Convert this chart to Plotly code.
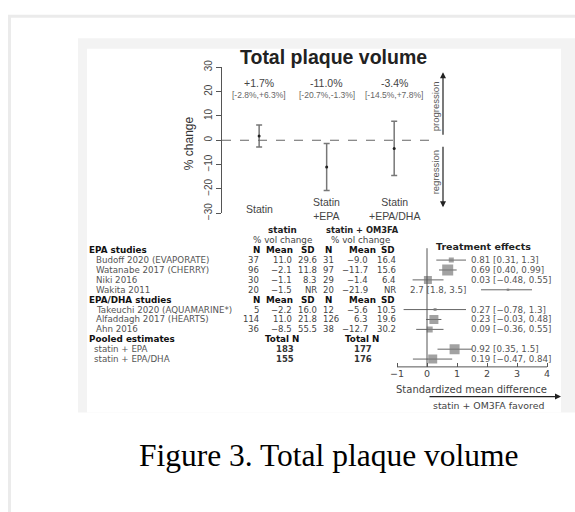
import plotly.graph_objects as go

W, H = 575, 512


def px(x):
    return x / W


def py(y):
    return 1 - y / H


# ---------------- data ----------------
groups = ["Statin", "Statin<br>+EPA", "Statin<br>+EPA/DHA"]
pct_change = [1.7, -11.0, -3.4]
pct_low = [-2.8, -20.7, -14.5]
pct_high = [6.3, -1.3, 7.8]
y_ticks = [-30, -20, -10, 0, 10, 20, 30]

epa_studies = ["Budoff 2020 (EVAPORATE)", "Watanabe 2017 (CHERRY)", "Niki 2016", "Wakita 2011"]
epadha_studies = ["Takeuchi 2020 (AQUAMARINE*)", "Alfaddagh 2017 (HEARTS)", "Ahn 2016"]
statin_n = [37, 96, 30, 20, 5, 114, 36]
statin_mean = [11.0, -2.1, -1.1, -1.5, -2.2, 11.0, -8.5]
statin_sd = [29.6, 11.8, 8.3, None, 16.0, 21.8, 55.5]
om3_n = [31, 97, 29, 20, 12, 126, 38]
om3_mean = [-9.0, -11.7, -1.4, -21.9, -5.6, 6.3, -12.7]
om3_sd = [16.4, 15.6, 6.4, None, 10.5, 19.6, 30.2]

pooled_names = ["statin + EPA", "statin + EPA/DHA"]
pooled_statin_n = [183, 155]
pooled_om3_n = [177, 176]

smd = [0.81, 0.69, 0.03, 2.7, 0.27, 0.23, 0.09, 0.92, 0.19]
smd_low = [0.31, 0.40, -0.48, 1.8, -0.78, -0.03, -0.36, 0.35, -0.47]
smd_high = [1.3, 0.99, 0.55, 3.5, 1.3, 0.48, 0.55, 1.5, 0.84]
box_weight = [5, 11, 8, 2.5, 3, 9, 6, 10, 9]
smd_ticks = [-1, 0, 1, 2, 3, 4]

# ---------------- layout helpers ----------------
SANS = "Liberation Sans, Arial, sans-serif"
WIDE = "DejaVu Sans, Liberation Sans, sans-serif"
SERIF = "Liberation Serif, Times New Roman, serif"
study_slots = [1, 2, 3, 4, 6, 7, 8]
pooled_slots = [10, 11]
forest_slots = study_slots + pooled_slots


def fmt(v, nd=1):
    if v is None:
        return "NR"
    s = f"{v:.{nd}f}"
    return s.replace("-", "\u2212")


def fmt_smd(v):
    s = f"{v:.1f}" if abs(v) >= 1 else f"{v:.2f}"
    return s.replace("-", "\u2212")


fig = go.Figure()

# top panel: mean % change with CI
fig.add_trace(go.Scatter(
    x=[1, 2, 3], y=pct_change, mode="markers",
    marker=dict(size=3, color="#222"),
    error_y=dict(type="data", symmetric=False,
                 array=[h - m for h, m in zip(pct_high, pct_change)],
                 arrayminus=[m - l for m, l in zip(pct_change, pct_low)],
                 color="#777", thickness=1.5, width=3),
    xaxis="x", yaxis="y", hoverinfo="skip"))

# forest plot
fig.add_trace(go.Scatter(
    x=smd, y=forest_slots, mode="markers",
    marker=dict(symbol="square", size=box_weight, color="#7a7a7a", line=dict(width=0)),
    error_x=dict(type="data", symmetric=False,
                 array=[h - m for h, m in zip(smd_high, smd)],
                 arrayminus=[m - l for m, l in zip(smd, smd_low)],
                 color="#666", thickness=1, width=0),
    xaxis="x3", yaxis="y3", hoverinfo="skip"))

shapes = [
    # outer page frame
    dict(type="rect", xref="paper", yref="paper", x0=px(9.5), x1=1.2, y0=py(9.5), y1=-0.2,
         line=dict(color="#ebebeb", width=3), fillcolor="rgba(0,0,0,0)", layer="below"),
    # figure image background
    dict(type="rect", xref="paper", yref="paper", x0=px(78), x1=1.0, y0=py(32), y1=py(417),
         line=dict(width=0), fillcolor="#f3f3f3", layer="below"),
    dict(type="rect", xref="paper", yref="paper", x0=px(87), x1=px(561), y0=py(43), y1=py(417),
         line=dict(width=0), fillcolor="#ffffff", layer="below"),
    # zero line top panel
    dict(type="line", xref="x", yref="y", x0=0.45, x1=3.56, y0=0, y1=0,
         line=dict(color="#666", width=1, dash="dash")),
    # forest zero line and axis
    dict(type="line", xref="x3", yref="y3", x0=0, x1=0, y0=-0.2, y1=11.8,
         line=dict(color="#555", width=1)),
    dict(type="line", xref="x3", yref="paper", x0=smd_ticks[0], x1=smd_ticks[-1], y0=py(370), y1=py(370),
         line=dict(color="#555", width=1)),
]

ann = []


def text(x, y, t, size, color="#333", xanchor="center", yanchor="middle", xref="paper", yref="paper",
         angle=0, family=SANS):
    ann.append(dict(x=x, y=y, xref=xref, yref=yref, text=t, showarrow=False, xanchor=xanchor,
                    yanchor=yanchor, textangle=angle, borderpad=0,
                    font=dict(size=size, color=color, family=family)))


# title & top panel text
text(px(333), py(51), "<b>Total plaque volume</b>", 19.5, "#222")
text(px(189), py(140), "% change", 12, "#333", angle=-90)
for i, (m, lo, hi) in enumerate(zip(pct_change, pct_low, pct_high)):
    text(i + 1, py(78.5), f"{m:+.1f}%", 10.5, "#444", xref="x")
    text(i + 1, py(90), f"[{lo:+.1f}%,{hi:+.1f}%]", 8.5, "#666", xref="x")
    text(i + 1, py(208), groups[i], 10.5, "#444", xref="x")
text(px(435), py(102), "progression", 9.5, "#555", angle=-90)
text(px(435), py(170), "regression", 9.5, "#555", angle=-90)
for y_head, ay in [(67, 64), (206, -62)]:
    ann.append(dict(x=px(443), y=py(y_head), xref="paper", yref="paper", text="", showarrow=True,
                    ax=0, ay=ay, arrowhead=2, arrowsize=1, arrowwidth=1.2, arrowcolor="#222"))

# table headers
HB = 8.8
RS = 8.7
NUM = 8.5
text(px(282), -2, "<b>statin</b>", HB, "#222", yref="y3", family=WIDE)
text(px(282), -1, "% vol change", HB, "#444", yref="y3", family=WIDE)
text(px(362), -2, "<b>statin + OM3FA</b>", 8.3, "#222", yref="y3", family=WIDE)
text(px(360), -1, "% vol change", HB, "#444", yref="y3", family=WIDE)
for slot, label in [(0, "EPA studies"), (5, "EPA/DHA studies"), (9, "Pooled estimates")]:
    text(px(88), slot, f"<b>{label}</b>", HB, "#111", xanchor="left", yref="y3", family=WIDE)
for slot in (0, 5):
    for xc, lab in [(256, "N"), (279, "Mean"), (308, "SD"), (328, "N"), (362, "Mean"), (388, "SD")]:
        text(px(xc), slot, f"<b>{lab}</b>", HB, "#111", yref="y3", family=WIDE)
text(px(282), 9, "<b>Total N</b>", HB, "#111", yref="y3", family=WIDE)
text(px(362), 9, "<b>Total N</b>", HB, "#111", yref="y3", family=WIDE)

# table rows
names = epa_studies + epadha_studies
for k, slot in enumerate(study_slots):
    text(px(95), slot, names[k], RS, "#555", xanchor="left", yref="y3", family=WIDE)
    text(px(260), slot, str(statin_n[k]), NUM, "#444", xanchor="right", yref="y3", family=WIDE)
    text(px(293), slot, fmt(statin_mean[k]), NUM, "#444", xanchor="right", yref="y3", family=WIDE)
    text(px(318), slot, fmt(statin_sd[k]), NUM, "#444", xanchor="right", yref="y3", family=WIDE)
    text(px(322), slot, str(om3_n[k]), NUM, "#444", xanchor="left", yref="y3", family=WIDE)
    text(px(369), slot, fmt(om3_mean[k]), NUM, "#444", xanchor="right", yref="y3", family=WIDE)
    text(px(397), slot, fmt(om3_sd[k]), NUM, "#444", xanchor="right", yref="y3", family=WIDE)
for k, slot in enumerate(pooled_slots):
    text(px(93), slot, pooled_names[k], RS, "#555", xanchor="left", yref="y3", family=WIDE)
    text(px(285), slot, f"<b>{pooled_statin_n[k]}</b>", NUM, "#333", yref="y3", family=WIDE)
    text(px(363), slot, f"<b>{pooled_om3_n[k]}</b>", NUM, "#333", yref="y3", family=WIDE)

# forest labels
text(px(435), -0.35, "<b>Treatment effects</b>", 9.5, "#222", xanchor="left", yref="y3", family=WIDE)
for k, slot in enumerate(forest_slots):
    lab = f"{fmt_smd(smd[k])} [{fmt_smd(smd_low[k])}, {fmt_smd(smd_high[k])}]"
    if smd_low[k] > 1.5:
        text(px(468), slot, lab, RS, "#555", xanchor="right", yref="y3", family=WIDE)
    else:
        text(px(470), slot, lab, RS, "#555", xanchor="left", yref="y3", family=WIDE)
text(px(471), py(393.5), "Standardized mean difference", 10, "#444", family=WIDE)
ann.append(dict(x=px(561), y=py(400.5), xref="paper", yref="paper", text="", showarrow=True,
                ax=-133, ay=0, arrowhead=2, arrowsize=1, arrowwidth=1.2, arrowcolor="#222"))
text(px(488), py(410), "statin + OM3FA favored", 9.4, "#444", family=WIDE)

# caption
text(px(328.5), py(461), "Figure 3. Total plaque volume", 31.5, "#000", family=SERIF)

fig.update_layout(
    width=W, height=H, autosize=False,
    margin=dict(l=0, r=0, t=0, b=0, pad=0),
    paper_bgcolor="white", plot_bgcolor="rgba(0,0,0,0)",
    showlegend=False, hovermode=False,
    shapes=shapes, annotations=ann,
    xaxis=dict(domain=[px(222), px(432)], range=[0.45, 3.56], visible=False, anchor="y"),
    yaxis=dict(domain=[py(212), py(62)], range=[-30, 30], anchor="x",
               showline=True, linecolor="#555", linewidth=1, ticks="outside", ticklen=5,
               tickcolor="#555", tickvals=y_ticks,
               ticktext=[str(v).replace("-", "\u2212") for v in y_ticks],
               tickangle=-90, showgrid=False, zeroline=False,
               tickfont=dict(size=10, color="#444", family=SANS)),
    xaxis3=dict(domain=[px(382), px(562)], range=[-1.5, 4.5], anchor="free", position=py(370),
                showline=False, ticks="inside", ticklen=4, tickcolor="#555",
                tickvals=smd_ticks, ticktext=[str(v).replace("-", "\u2212") for v in smd_ticks],
                showgrid=False, zeroline=False, tickfont=dict(size=9.5, color="#444", family=WIDE)),
    yaxis3=dict(domain=[py(392.5), py(219.5)], range=[14, -3], visible=False, anchor="x3"),
)

fig.write_html("out.html", config={"displayModeBar": False, "staticPlot": True},
               post_script="document.body.style.margin='0';document.body.style.padding='0';")
